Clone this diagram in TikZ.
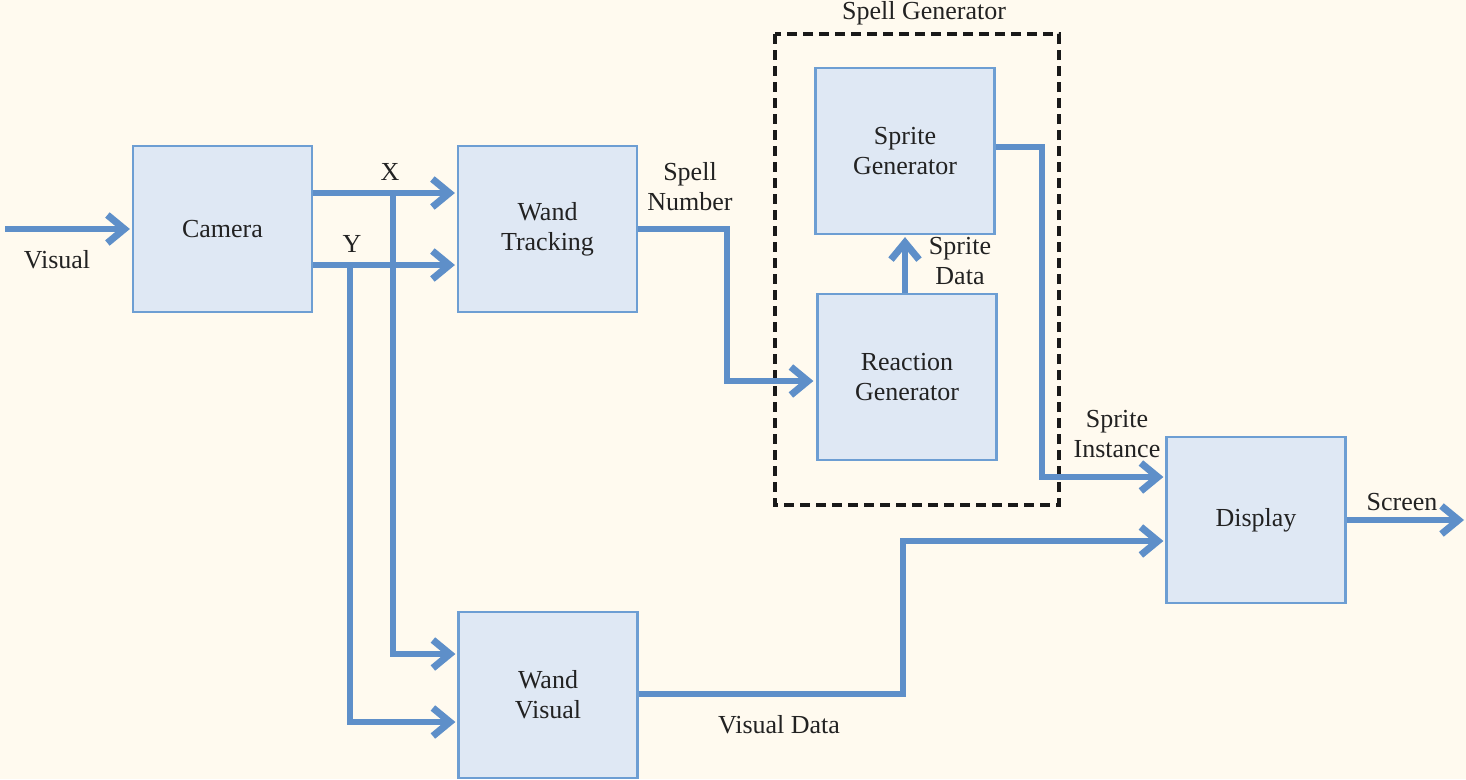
\documentclass[tikz,border=0pt]{standalone}
\usepackage{fontspec}
\setmainfont{Liberation Serif}
\usetikzlibrary{arrows.meta,positioning}
\definecolor{paper}{HTML}{FFFAEF}
\definecolor{boxfill}{HTML}{DFE8F4}
\definecolor{boxline}{HTML}{6D9ED3}
\definecolor{wire}{HTML}{5E8FC9}
\definecolor{ink}{HTML}{222222}
\tikzset{
  block/.style={draw=boxline,fill=boxfill,line width=2.2pt,minimum width=179pt,minimum height=166pt,
    align=center,text=ink,font=\fontsize{26}{30}\selectfont},
  sig/.style={draw=wire,line width=6.5pt,-{Straight Barb[length=17pt,width=28pt,line width=7pt]}},
  sig label/.style={text=ink,align=center,inner sep=0pt,font=\fontsize{26}{30}\selectfont},
  group box/.style={draw=black!90,line width=3.2pt,dash pattern=on 10pt off 6pt},
}

\begin{document}
\begin{tikzpicture}[x=1pt,y=-1pt]
  \fill[paper] (0,0) rectangle (1466,779);
  \useasboundingbox (0,0) rectangle (1466,779);

  % blocks
  \node[block] (camera) at (222.5,229) {Camera};
  \node[block] (track) at (547.5,229) {Wand\\Tracking};
  \node[block] (visual) at (548,695) {Wand\\Visual};
  \node[block] (sprite) at (905,151) {Sprite\\Generator};
  \node[block] (reaction) at (907,377) {Reaction\\Generator};
  \node[block] (display) at (1256,520) {Display};

  % spell generator group
  \draw[group box] (775,34) rectangle (1059,505);
  \node[sig label] (grouplabel) at (924,13) {Spell Generator};

  % free ends and bends
  \coordinate (visualin) at (5,229);
  \coordinate (screenout) at (1464,520);
  \coordinate (xsplit) at (393,193);
  \coordinate (ysplit) at (350,265);
  \coordinate (spellbend) at (727,229);
  \coordinate (instbend) at (1042,147);
  \coordinate (databend) at (903,694);

  % connectors
  \draw[sig] (visualin) -- ([xshift=-2pt]camera.west);
  \draw[sig] ([yshift=36pt]camera.east) -- ([yshift=36pt,xshift=-2pt]track.west);
  \draw[sig] ([yshift=-36pt]camera.east) -- ([yshift=-36pt,xshift=-2pt]track.west);
  \draw[sig] (xsplit) |- ([yshift=41pt,xshift=-2pt]visual.west);
  \draw[sig] (ysplit) |- ([yshift=-27pt,xshift=-2pt]visual.west);
  \draw[sig] (track.east) -- (spellbend) |- ([yshift=-4pt,xshift=-3pt]reaction.west);
  \draw[sig] (reaction.north -| sprite.south) -- ([yshift=-2pt]sprite.south);
  \draw[sig] ([yshift=4pt]sprite.east) -- (instbend) |- ([yshift=43pt,xshift=-2pt]display.west);
  \draw[sig] ([yshift=1pt]visual.east) -- (databend) |- ([yshift=-21pt,xshift=-2pt]display.west);
  \draw[sig] (display.east) -- (screenout);

  % labels
  \node[sig label] (lvisual) at (57,260) {Visual};
  \node[sig label] (lx) at (390,172) {X};
  \node[sig label] (ly) at (352,244) {Y};
  \node[sig label] (lspell) at (690,187) {Spell\\Number};
  \node[sig label] (ldata) at (960,261) {Sprite\\Data};
  \node[sig label] (linst) at (1117,434) {Sprite\\Instance};
  \node[sig label] (lvdata) at (779,725) {Visual Data};
  \node[sig label] (lscreen) at (1402,502) {Screen};
\end{tikzpicture}
\end{document}
